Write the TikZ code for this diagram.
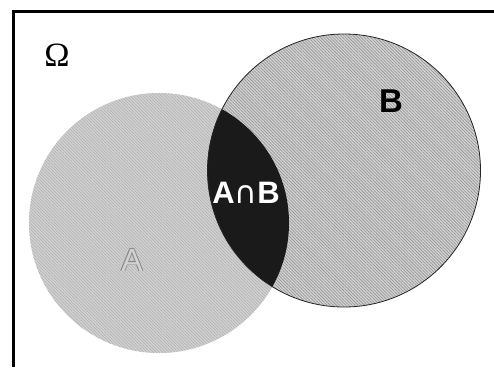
\documentclass[tikz,border=0pt]{standalone}
\usepackage{fontspec}
\setmainfont{Liberation Serif}
\newfontfamily\lsans{Liberation Sans}
\newfontfamily\dsans{DejaVu Sans}
\usetikzlibrary{patterns.meta}
\definecolor{aback}{HTML}{D2D2D2}
\definecolor{aline}{HTML}{B4B4B4}
\definecolor{bback}{HTML}{D4D4D4}
\definecolor{bline}{HTML}{989898}
\definecolor{inter}{HTML}{1A1A1A}
\definecolor{aoutline}{HTML}{8A8A8A}
\tikzset{
  frameline/.style={line width=3pt, draw=black},
  lbl/.style={inner sep=0pt, anchor=center},
}
\begin{document}
\begin{tikzpicture}[x=1pt,y=-1pt]
\useasboundingbox (0,0) rectangle (494,367);
% sets
\fill[aback] (159,223) circle (130);
\fill[pattern={Lines[angle=-45,distance=2.2pt,line width=0.7pt]}, pattern color=aline] (159,223) circle (130);
\fill[bback] (344,170.5) circle (136.5);
\fill[pattern={Lines[angle=-45,distance=2.2pt,line width=0.75pt]}, pattern color=bline] (344,170.5) circle (136.5);
\begin{scope}
  \clip (159,223) circle (130);
  \fill[inter] (344,170.5) circle (136.5);
\end{scope}
\draw[line width=0.8pt, black!85] (344,170.5) circle (136.5);
% frame
\coordinate (tl) at (13,11);
\coordinate (tr) at (494,11);
\coordinate (bl) at (13,367);
\draw[frameline] (bl) -- (tl) -- (tr);
% labels
\node[lbl] (omega) at (57,55) {\fontsize{34}{34}\selectfont\char"03A9};
\node[lbl] (b) at (391,101) {\fontsize{33}{33}\selectfont\lsans\bfseries B};
\node[lbl, text=white] (ab) at (246,193) {\fontsize{31}{31}\selectfont\lsans\bfseries A{\dsans\mdseries\char"2229}B};
% outlined A
\foreach \dx/\dy in {-0.9/0,0.9/0,0/-0.9,0/0.9,-0.65/-0.65,0.65/0.65,-0.65/0.65,0.65/-0.65}
  \node[lbl, text=aoutline] at (132+\dx,260+\dy) {\fontsize{32}{32}\selectfont\lsans A};
\node[lbl, text=aback] (a) at (132,260) {\fontsize{32}{32}\selectfont\lsans A};
\end{tikzpicture}
\end{document}
